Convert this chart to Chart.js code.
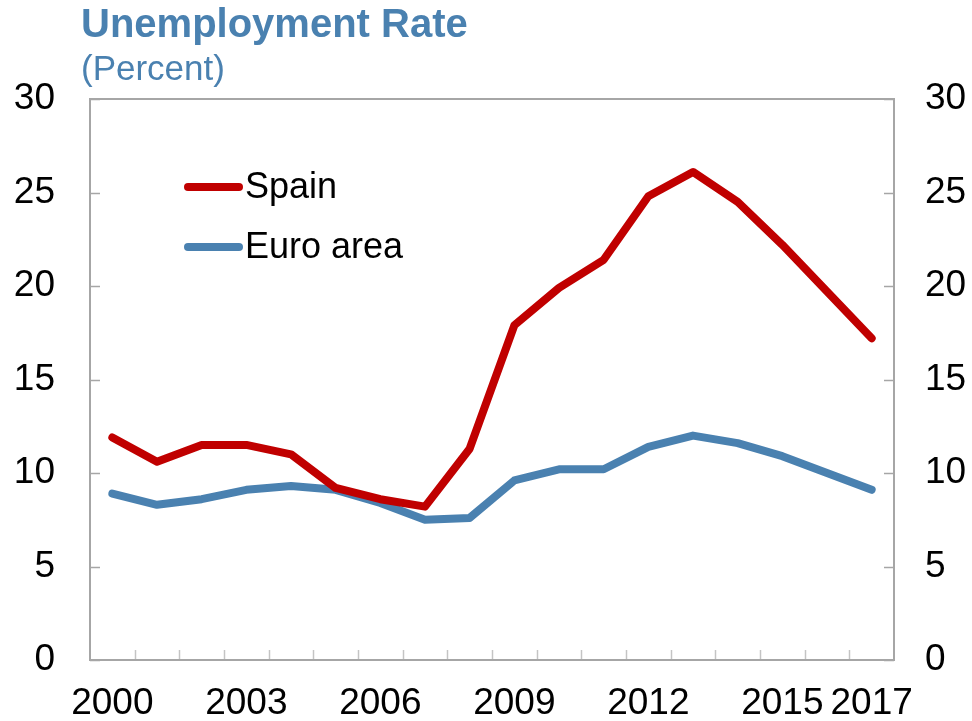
<!DOCTYPE html>
<html><head><meta charset="utf-8">
<script src="https://cdn.jsdelivr.net/npm/chart.js@4.4.0/dist/chart.umd.min.js"></script>
<style>html,body{margin:0;padding:0;background:#fff}#wrap{width:972px;height:721px;position:relative}</style>
</head><body><div id="wrap"><canvas id="c" width="972" height="721"></canvas></div>
<script>
const years = ['2000','2001','2002','2003','2004','2005','2006','2007','2008','2009','2010','2011','2012','2013','2014','2015','2016','2017'];
const tickYears = ['2000','2003','2006','2009','2012','2015','2017'];
const spain = [11.9,10.6,11.5,11.5,11.0,9.2,8.6,8.2,11.3,17.9,19.9,21.4,24.8,26.1,24.5,22.2,19.7,17.2];
const euroArea = [8.9,8.3,8.6,9.1,9.3,9.1,8.4,7.5,7.6,9.6,10.2,10.2,11.4,12.0,11.6,10.9,10.0,9.1];
const yMin = 0, yMax = 30, yStep = 5;
const titleText = 'Unemployment Rate';
const subtitleText = '(Percent)';

const FONT = '"Liberation Sans", Arial, sans-serif';
const BLUE = '#4a81b0';
const RED = '#c00000';
const AXIS = '#a6a6a6';

const framePlugin = {
  id: 'frame',
  beforeDatasetsDraw(chart) {
    const {ctx, chartArea: a, scales} = chart;
    ctx.save();
    ctx.strokeStyle = AXIS; ctx.lineWidth = 1.5;
    scales.y.ticks.forEach(t => {
      const py = Math.round(scales.y.getPixelForValue(t.value)) + 0.5;
      ctx.beginPath(); ctx.moveTo(a.left, py); ctx.lineTo(a.left + 10, py); ctx.stroke();
      ctx.beginPath(); ctx.moveTo(a.right - 10, py); ctx.lineTo(a.right, py); ctx.stroke();
    });
    ctx.strokeStyle = '#c4c4c4';
    for (let i = 1; i < years.length; i++) {
      const px = Math.round((scales.x.getPixelForValue(i - 1) + scales.x.getPixelForValue(i)) / 2) + 0.5;
      ctx.beginPath(); ctx.moveTo(px, a.bottom); ctx.lineTo(px, a.bottom - 10); ctx.stroke();
    }
    ctx.strokeStyle = AXIS; ctx.lineWidth = 2;
    ctx.strokeRect(a.left, a.top, a.right - a.left, a.bottom - a.top);
    ctx.restore();
  },
  afterDraw(chart) {
    const {ctx} = chart;
    ctx.save();
    ctx.fillStyle = BLUE;
    ctx.textAlign = 'left'; ctx.textBaseline = 'alphabetic';
    ctx.font = 'bold 40px ' + FONT;
    ctx.fillText(titleText, 81, 37);
    ctx.font = '35px ' + FONT;
    ctx.fillText(subtitleText, 81, 80);
    const rows = [187, 247];
    chart.data.datasets.forEach((ds, i) => {
      const y = rows[i];
      ctx.strokeStyle = ds.borderColor; ctx.lineWidth = 8; ctx.lineCap = 'round';
      ctx.beginPath(); ctx.moveTo(188, y); ctx.lineTo(239, y); ctx.stroke();
      ctx.fillStyle = '#000'; ctx.font = '36px ' + FONT;
      ctx.fillText(ds.label, 245, y + 11);
    });
    ctx.restore();
  }
};

new Chart(document.getElementById('c'), {
  type: 'line',
  data: {
    labels: years,
    datasets: [
      {label: 'Spain', data: spain, borderColor: RED, backgroundColor: RED, borderWidth: 8, pointRadius: 0, tension: 0, borderCapStyle: 'round', borderJoinStyle: 'round', yAxisID: 'y'},
      {label: 'Euro area', data: euroArea, borderColor: BLUE, backgroundColor: BLUE, borderWidth: 8, pointRadius: 0, tension: 0, borderCapStyle: 'round', borderJoinStyle: 'round', yAxisID: 'y'}
    ]
  },
  options: {
    responsive: false,
    devicePixelRatio: 1,
    animation: false,
    layout: {padding: {top: 99, left: 0, right: 0, bottom: 0}},
    plugins: {legend: {display: false}, title: {display: false}, tooltip: {enabled: false}},
    scales: {
      x: {
        type: 'category', offset: true,
        grid: {display: false, drawTicks: false}, border: {display: false},
        ticks: {
          autoSkip: false, maxRotation: 0, minRotation: 0, padding: 22, color: '#000',
          font: {family: FONT, size: 37},
          callback: function(v, i) { return tickYears.includes(years[i]) ? years[i] : ''; }
        },
        afterFit(s) { s.height = 61; }
      },
      y: {
        position: 'left', min: yMin, max: yMax,
        grid: {display: false, drawTicks: false}, border: {display: false},
        ticks: {stepSize: yStep, padding: 35, color: '#000', font: {family: FONT, size: 37}},
        afterFit(s) { s.width = 90; }
      },
      y2: {
        position: 'right', min: yMin, max: yMax,
        grid: {display: false, drawTicks: false}, border: {display: false},
        ticks: {stepSize: yStep, padding: 31, color: '#000', font: {family: FONT, size: 37}},
        afterFit(s) { s.width = 78; }
      }
    }
  },
  plugins: [framePlugin]
});
</script>
</body></html>
